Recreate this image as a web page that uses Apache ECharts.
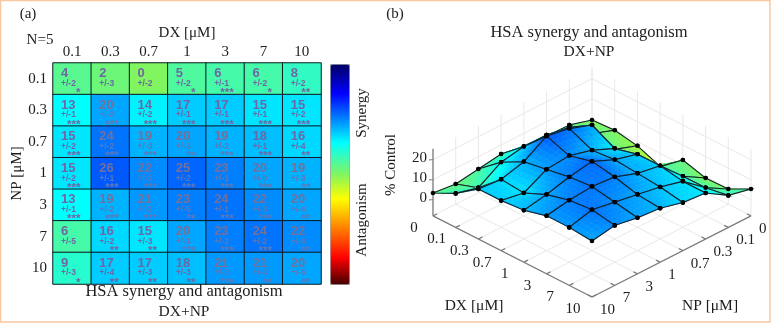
<!DOCTYPE html>
<html>
<head>
<meta charset="utf-8">
<script src="https://cdn.jsdelivr.net/npm/echarts@6/dist/echarts.min.js"></script>
<style>html,body{margin:0;padding:0;background:#fff}#c{width:771px;height:323px}</style>
</head>
<body>
<div id="c"></div>
<script>
// ---- data ----
const dxLabels = ['0.1','0.3','0.7','1','3','7','10'];
const npLabels = ['0.1','0.3','0.7','1','3','7','10'];
const surfaceDxTicks = ['0','0.1','0.3','0.7','1','3','7','10'];
const surfaceNpTicks = ['0','0.1','0.3','0.7','1','3','7','10'];
const zTicks = [0,10,20];
const synergy = [
  [4,2,0,5,6,6,8],
  [13,20,14,17,17,15,15],
  [15,24,19,20,19,18,16],
  [15,26,22,25,23,20,19],
  [13,19,21,23,24,22,20],
  [6,16,15,20,23,24,22],
  [9,17,17,18,21,21,20]
];
const spread = [
  [2,3,2,2,1,2,2],
  [1,2,2,1,1,1,2],
  [2,2,3,3,2,1,4],
  [2,1,2,2,1,0,3],
  [1,2,2,5,1,3,4],
  [5,2,3,1,2,2,4],
  [3,4,3,3,3,4,5]
];
const stars = [
  ['*','','','*','***','*','**'],
  ['***','***','***','***','***','***','***'],
  ['***','***','***','**','***','***','**'],
  ['***','***','***','***','***','***','**'],
  ['***','***','***','**','***','***','**'],
  ['','**','**','***','***','***','**'],
  ['*','**','**','**','***','**','**']
];
// surface edges (single-agent rows, DX=0 and NP=0)
const dxZeroEdge = [-0.7,2.6,2.9,3.2,5.5,3.8,2.1,3.4];
const npZeroEdge = [-0.7,0,-2,-6.5,2.5,-0.7,-0.4,5.4];

// ---- colour map ----
const anchors = [[-45,[70,0,0]],[-34,[255,0,0]],[-22,[255,128,0]],[-10,[255,255,0]],[0,[128,245,96]],[13,[0,255,255]],[33,[0,0,255]],[45,[0,0,100]]];
function colorAt(v){
  for(let k=0;k<anchors.length-1;k++){
    const a=anchors[k],b=anchors[k+1];
    if(v<=b[0]){
      const t=Math.max(0,(v-a[0])/(b[0]-a[0]));
      return 'rgb('+a[1].map((c,n)=>Math.round(c+(b[1][n]-c)*t)).join(',')+')';
    }
  }
  return 'rgb(0,0,100)';
}
const rampStops=[];for(let v=-45;v<=45;v++)rampStops.push(colorAt(v));

// ---- heatmap data ----
const heatData=[];
synergy.forEach((row,r)=>row.forEach((v,c)=>heatData.push([c,r,v])));
const textData=[];
synergy.forEach((row,r)=>row.forEach((v,c)=>textData.push([c,r,v,spread[r][c],stars[r][c]])));

// ---- surface helpers: projected plane ----
function zAt(i,j){ if(i===0)return dxZeroEdge[j]; if(j===0)return npZeroEdge[i]; return synergy[j-1][i-1]; }
const FLOOR=-8, TOP=25.5;
function proj(i,j,z){ return [i-j,(14-i-j)*5.8+z-FLOOR]; }
const quads=[];
for(let s=0;s<=12;s++)for(let i=0;i<7;i++){const j=s-i;if(j>=0&&j<7)quads.push([i,j]);}
const gridLines=[];
for(let k=0;k<8;k++){
  gridLines.push([k,0,FLOOR,k,7,FLOOR]);
  gridLines.push([0,k,FLOOR,7,k,FLOOR]);
  gridLines.push([0,k,FLOOR,0,k,TOP]);
  gridLines.push([k,0,FLOOR,k,0,TOP]);
}
zTicks.forEach(z=>{gridLines.push([0,0,z,0,7,z]);gridLines.push([0,0,z,7,0,z]);});
const axisLines=[[0,7,FLOOR,7,7,FLOOR],[7,7,FLOOR,7,0,FLOOR],[0,7,FLOOR,0,7,TOP]];
for(let k=0;k<8;k++){
  axisLines.push([k,7,FLOOR,k,6.82,FLOOR]);
  axisLines.push([7,k,FLOOR,6.82,k,FLOOR]);
}

const SERIF='"Liberation Serif"';
const INK='#1c1c1c';
function label(x,y,text,extra){
  return Object.assign({type:'text',x:x,y:y,style:Object.assign({text:text,fill:INK,font:'15px '+SERIF,textAlign:'center',textVerticalAlign:'middle'},extra||{}),silent:true},{});
}
function rot(x,y,text){ return {type:'text',x:x,y:y,rotation:Math.PI/2,silent:true,style:{text:text,fill:INK,font:'15px '+SERIF,textAlign:'center',textVerticalAlign:'middle'}}; }

function lineRender(colorName,width){
  return function(params,api){
    const a=api.coord(proj(api.value(0),api.value(1),api.value(2)));
    const b=api.coord(proj(api.value(3),api.value(4),api.value(5)));
    return {type:'line',shape:{x1:a[0],y1:a[1],x2:b[0],y2:b[1]},style:{stroke:colorName,lineWidth:width,fill:null},silent:true};
  };
}

const chart=echarts.init(document.getElementById('c'),null,{renderer:'canvas'});
chart.setOption({
  animation:false,
  backgroundColor:'#fff',
  grid:[
    {left:53,top:63,width:268,height:221,containLabel:false},
    {left:433,top:77,width:318,height:220}
  ],
  xAxis:[
    {type:'category',gridIndex:0,position:'top',data:dxLabels,name:'DX [μM]',nameLocation:'middle',nameGap:21,
      nameTextStyle:{fontFamily:SERIF,fontSize:15,color:INK},
      axisLine:{show:false},axisTick:{show:false},splitLine:{show:false},
      axisLabel:{fontFamily:SERIF,fontSize:15,color:INK,margin:3}},
    {type:'value',gridIndex:1,min:-7,max:7,show:false}
  ],
  yAxis:[
    {type:'category',gridIndex:0,inverse:true,data:npLabels,name:'NP [μM]',nameLocation:'middle',nameGap:26,
      nameTextStyle:{fontFamily:SERIF,fontSize:15,color:INK},
      axisLine:{show:false},axisTick:{show:false},splitLine:{show:false},
      axisLabel:{fontFamily:SERIF,fontSize:15,color:INK,margin:6}},
    {type:'value',gridIndex:1,min:0,max:110,show:false}
  ],
  visualMap:{type:'continuous',seriesIndex:0,min:-45,max:45,calculable:false,showLabel:false,text:['',''],
    left:330,top:64,itemWidth:19,itemHeight:220,padding:0,borderColor:'#999',borderWidth:1,
    inRange:{color:rampStops},hoverLink:false,realtime:false},
  series:[
    {type:'heatmap',xAxisIndex:0,yAxisIndex:0,data:heatData,silent:true,
      itemStyle:{borderColor:'#0c1a22',borderWidth:1},label:{show:false},emphasis:{disabled:true}},
    {type:'custom',xAxisIndex:0,yAxisIndex:0,data:textData,silent:true,clip:false,z:5,
      encode:{x:0,y:1},
      renderItem(params,api){
        const c=api.coord([api.value(0),api.value(1)]);
        const w=api.size([1,1]);
        const x=c[0]-w[0]/2, y=c[1]-w[1]/2;
        const d=textData[params.dataIndex];
        const strong=d[2]<19;
        const numFill=strong?'#6f66a4':'#75709a';
        const softFill=strong?'#6f66a4':'#5f78b4';
        return {type:'group',children:[
          {type:'text',x:x+8,y:y+10.5,silent:true,style:{text:String(d[2]),fill:numFill,font:'bold 13px "Liberation Sans"',textAlign:'left',textVerticalAlign:'middle'}},
          {type:'text',x:x+8,y:y+20.5,silent:true,style:{text:'+/-'+d[3],fill:softFill,font:'bold 8.5px "Liberation Sans"',textAlign:'left',textVerticalAlign:'middle'}},
          {type:'text',x:x+27.5,y:y+24,silent:true,style:{text:d[4],fill:softFill,font:'bold 11.5px "Liberation Sans"',textAlign:'right',textVerticalAlign:'top'}}
        ]};
      }},
    {type:'custom',xAxisIndex:1,yAxisIndex:1,data:gridLines,silent:true,clip:false,z:1,
      renderItem:lineRender('#ebe8e8',1)},
    {type:'custom',xAxisIndex:1,yAxisIndex:1,data:axisLines,silent:true,clip:false,z:2,
      renderItem:lineRender('#7d7d7d',1.3)},
    {type:'custom',xAxisIndex:1,yAxisIndex:1,data:zTicks,silent:true,clip:false,z:2,
      encode:{y:0},
      renderItem(params,api){
        const z=zTicks[params.dataIndex];
        const p=api.coord(proj(0,7,z));
        return {type:'group',children:[
          {type:'line',shape:{x1:p[0]-4,y1:p[1],x2:p[0],y2:p[1]},style:{stroke:'#7d7d7d',lineWidth:1},silent:true},
          {type:'text',x:p[0]-6,y:p[1]-2,silent:true,style:{text:String(z),fill:INK,font:'15px '+SERIF,textAlign:'right',textVerticalAlign:'middle'}}
        ]};
      }},
    {type:'custom',xAxisIndex:1,yAxisIndex:1,data:surfaceDxTicks,silent:true,clip:false,z:2,
      encode:{tooltip:0},
      renderItem(params,api){
        const k=params.dataIndex;
        const p=api.coord(proj(k,7,FLOOR));
        return {type:'text',x:p[0]-19,y:p[1]+12,silent:true,style:{text:surfaceDxTicks[k],fill:INK,font:'15px '+SERIF,textAlign:'center',textVerticalAlign:'middle'}};
      }},
    {type:'custom',xAxisIndex:1,yAxisIndex:1,data:surfaceNpTicks,silent:true,clip:false,z:2,
      encode:{tooltip:0},
      renderItem(params,api){
        const k=params.dataIndex;
        const p=api.coord(proj(7,k,FLOOR));
        return {type:'text',x:p[0]+8,y:p[1]+13,silent:true,style:{text:surfaceNpTicks[k],fill:INK,font:'15px '+SERIF,textAlign:'left',textVerticalAlign:'middle'}};
      }},
    {type:'custom',xAxisIndex:1,yAxisIndex:1,data:quads,silent:true,clip:false,z:3,
      renderItem(params,api){
        const q=quads[params.dataIndex], i=q[0], j=q[1];
        const z00=zAt(i,j),z10=zAt(i+1,j),z01=zAt(i,j+1),z11=zAt(i+1,j+1);
        const N=5, children=[];
        const bil=(a,b)=>z00*(1-a)*(1-b)+z10*a*(1-b)+z01*(1-a)*b+z11*a*b;
        const pt=(a,b)=>api.coord(proj(i+a,j+b,bil(a,b)));
        for(let m=0;m<N;m++)for(let n=0;n<N;n++){
          const a0=m/N,a1=(m+1)/N,b0=n/N,b1=(n+1)/N;
          const col=colorAt(bil((a0+a1)/2,(b0+b1)/2));
          children.push({type:'polygon',shape:{points:[pt(a0,b0),pt(a1,b0),pt(a1,b1),pt(a0,b1)]},style:{fill:col,stroke:col,lineWidth:.6},silent:true});
        }
        const P=[api.coord(proj(i,j,z00)),api.coord(proj(i+1,j,z10)),api.coord(proj(i+1,j+1,z11)),api.coord(proj(i,j+1,z01))];
        children.push({type:'polygon',shape:{points:P},style:{fill:null,stroke:'#14202a',lineWidth:1.1},silent:true});
        P.forEach(p=>children.push({type:'circle',shape:{cx:p[0],cy:p[1],r:2.3},style:{fill:'#000'},silent:true}));
        return {type:'group',children:children};
      }}
  ],
  graphic:{elements:[
    {type:'rect',shape:{x:0.5,y:0.5,width:769.5,height:321.5},style:{fill:null,stroke:'#f9c8a0',lineWidth:1.5},silent:true,z:100},
    label(28,14,'(a)'),
    label(395,14,'(b)'),
    label(40,40,'N=5'),
    label(184,292,'HSA synergy and antagonism',{font:'16.5px '+SERIF}),
    label(184,312,'DX+NP',{font:'15.5px '+SERIF}),
    rot(362,113,'Synergy'),
    rot(362,220,'Antagonism'),
    label(589,33,'HSA synergy and antagonism',{font:'16.5px '+SERIF}),
    label(589,52,'DX+NP',{font:'15.5px '+SERIF}),
    rot(391,165,'% Control'),
    label(474,306,'DX [μM]',{font:'15.5px '+SERIF}),
    label(710,306,'NP [μM]',{font:'15.5px '+SERIF})
  ]}
});
</script>
</body>
</html>
